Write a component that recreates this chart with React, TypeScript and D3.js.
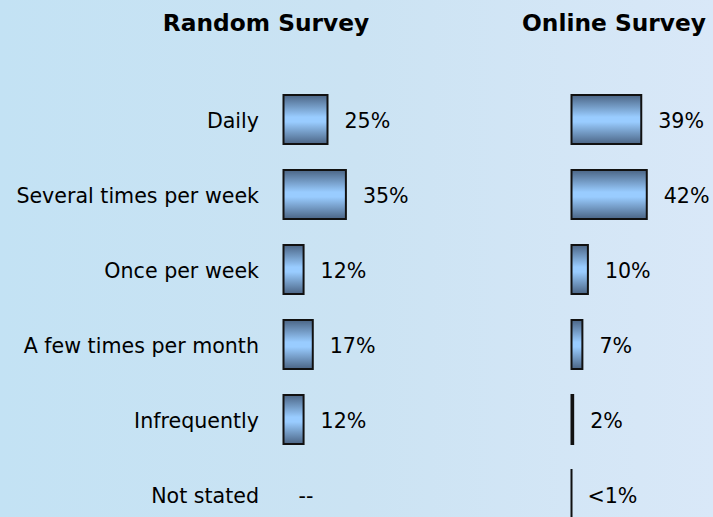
import React from "react";
import * as d3 from "d3";

const categories = [
  "Daily",
  "Several times per week",
  "Once per week",
  "A few times per month",
  "Infrequently",
  "Not stated",
];
const randomValues: (number | null)[] = [25, 35, 12, 17, 12, null];
const randomLabels = ["25%", "35%", "12%", "17%", "12%", "--"];
const onlineValues: (number | null)[] = [39, 42, 10, 7, 2, 0.5];
const onlineLabels = ["39%", "42%", "10%", "7%", "2%", "<1%"];
const panelTitles = ["Random Survey", "Online Survey"];

const W = 713;
const H = 517;

export default function App() {
  const y = d3
    .scaleBand<string>()
    .domain(categories)
    .range([82, 532])
    .paddingInner(0.32)
    .paddingOuter(0.16);
  const x = d3.scaleLinear().domain([0, 100]).range([0, 184]);

  const panels = [
    { title: panelTitles[0], values: randomValues, labels: randomLabels, left: 282.5, titleX: 266 },
    { title: panelTitles[1], values: onlineValues, labels: onlineLabels, left: 570.5, titleX: 614 },
  ];
  const font = "'DejaVu Sans', Verdana, sans-serif";

  return (
    <svg
      width={W}
      height={H}
      style={{ position: "absolute", left: 0, top: 0, display: "block" }}
      fontFamily={font}
    >
      <defs>
        <linearGradient id="bg" x1="0" y1="0" x2="1" y2="0">
          <stop offset="0" stopColor="#c3e2f4" />
          <stop offset="0.5" stopColor="#cbe3f3" />
          <stop offset="1" stopColor="#d9e8f8" />
        </linearGradient>
        <linearGradient id="bar" x1="0" y1="0" x2="0" y2="1">
          <stop offset="0" stopColor="#4b6585" />
          <stop offset="0.45" stopColor="#99ccff" />
          <stop offset="0.55" stopColor="#99ccff" />
          <stop offset="1" stopColor="#4b6585" />
        </linearGradient>
      </defs>
      <rect x={0} y={0} width={W} height={H} fill="url(#bg)" />
      {panels.map((p) => (
        <text
          key={p.title}
          x={p.titleX}
          y={31}
          textAnchor="middle"
          fontWeight="bold"
          fontSize={23.3}
          fill="#000"
        >
          {p.title}
        </text>
      ))}
      {categories.map((c) => (
        <text
          key={c}
          x={259}
          y={(y(c) as number) + y.bandwidth() / 2 + 8}
          textAnchor="end"
          fontSize={20.6}
          fill="#000"
        >
          {c}
        </text>
      ))}
      {panels.map((p) =>
        categories.map((c, i) => {
          const v = p.values[i];
          const top = y(c) as number;
          const w = v == null ? 0 : x(v);
          return (
            <g key={p.title + c}>
              {v != null && (
                <rect
                  x={p.left + 1}
                  y={top + 1}
                  width={Math.max(0.01, w - 2)}
                  height={y.bandwidth() - 2}
                  fill="url(#bar)"
                  stroke="#111"
                  strokeWidth={2}
                />
              )}
              <text
                x={p.left + w + 16}
                y={top + y.bandwidth() / 2 + 8}
                fontSize={20.6}
                fill="#000"
              >
                {p.labels[i]}
              </text>
            </g>
          );
        })
      )}
    </svg>
  );
}
